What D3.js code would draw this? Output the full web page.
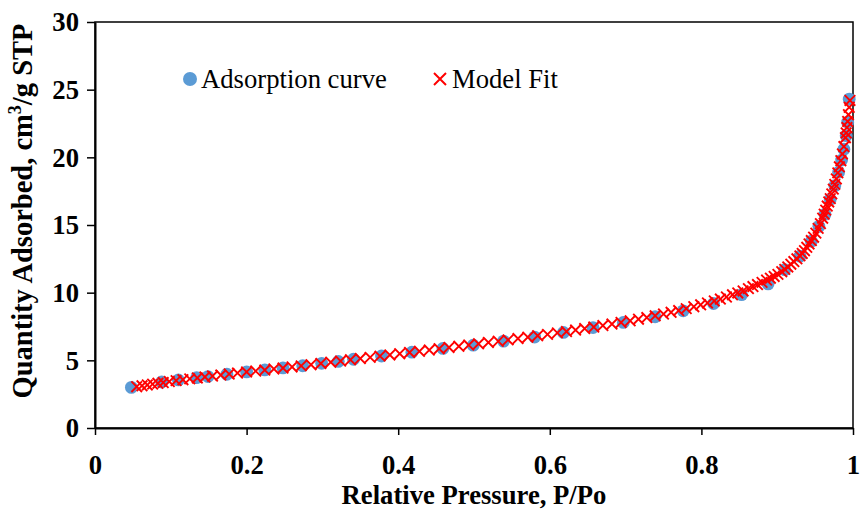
<!DOCTYPE html>
<html><head><meta charset="utf-8">
<script src="https://cdn.jsdelivr.net/npm/d3@7"></script>
<style>body{margin:0;background:#fff}svg{display:block}</style>
</head><body>
<svg id="c" width="861" height="510"></svg>
<script>
const xTicks = [0, 0.2, 0.4, 0.6, 0.8, 1];
const xTickLabels = ["0", "0.2", "0.4", "0.6", "0.8", "1"];
const yTicks = [0, 5, 10, 15, 20, 25, 30];
const yTickLabels = ["0", "5", "10", "15", "20", "25", "30"];

const adsX = [0.048,0.088,0.110,0.134,0.149,0.174,0.200,0.224,0.248,0.274,0.299,0.321,0.341,0.378,0.418,0.459,0.499,0.539,0.580,0.618,0.657,0.697,0.739,0.776,0.816,0.853,0.888,0.91,0.93,0.945,0.955,0.963,0.97,0.976,0.981,0.985,0.988,0.991,0.993,0.995];
const adsY = [3.0,3.4,3.55,3.72,3.8,3.97,4.14,4.29,4.44,4.6,4.78,4.92,5.08,5.32,5.6,5.88,6.12,6.42,6.72,7.06,7.42,7.8,8.22,8.66,9.2,9.85,10.65,11.7,12.7,13.8,14.9,15.8,16.9,17.9,18.9,19.8,20.6,21.6,22.6,24.3];

const fitX = [0.055,0.062,0.069,0.076,0.083,0.09,0.098,0.107,0.116,0.125,0.135,0.145,0.155,0.166,0.177,0.188,0.2,0.212,0.224,0.236,0.248,0.26,0.272,0.285,0.298,0.311,0.324,0.337,0.35,0.363,0.376,0.389,0.402,0.415,0.428,0.441,0.454,0.467,0.48,0.493,0.506,0.519,0.532,0.545,0.558,0.571,0.584,0.597,0.61,0.622,0.634,0.646,0.658,0.67,0.682,0.694,0.706,0.717,0.728,0.739,0.75,0.76,0.77,0.78,0.79,0.799,0.808,0.817,0.825,0.833,0.841,0.848,0.855,0.862,0.868,0.874,0.88,0.886,0.891,0.896,0.901,0.906,0.91,0.914,0.918,0.922,0.926,0.93,0.933,0.936,0.939,0.942,0.945,0.948,0.951,0.954,0.957,0.96,0.962,0.964,0.966,0.968,0.97,0.972,0.974,0.976,0.978,0.98,0.982,0.984,0.986,0.988,0.99,0.991,0.992,0.993,0.994,0.995,0.996];
const fitY = [3.05,3.12,3.18,3.24,3.3,3.36,3.43,3.5,3.57,3.63,3.7,3.77,3.84,3.91,3.99,4.06,4.14,4.21,4.28,4.36,4.43,4.51,4.59,4.68,4.77,4.86,4.95,5.04,5.13,5.22,5.31,5.4,5.49,5.58,5.67,5.76,5.86,5.95,6.04,6.13,6.22,6.32,6.41,6.51,6.61,6.71,6.82,6.92,7.03,7.13,7.24,7.35,7.46,7.57,7.68,7.8,7.92,8.04,8.16,8.29,8.42,8.55,8.68,8.82,8.96,9.1,9.24,9.39,9.53,9.68,9.84,9.98,10.13,10.3,10.45,10.6,10.76,10.93,11.07,11.2,11.35,11.55,11.72,11.9,12.1,12.3,12.5,12.72,12.9,13.1,13.35,13.6,13.85,14.1,14.4,14.75,15.1,15.5,15.8,16.1,16.4,16.7,16.95,17.3,17.65,18.0,18.4,18.85,19.3,19.75,20.25,20.8,21.45,21.8,22.2,22.65,23.15,23.7,24.2];

const seriesNames = ["Adsorption curve", "Model Fit"];
const xTitle = "Relative Pressure, P/Po";

const svg = d3.select("#c");
const L = 95, R = 853, T = 22, B = 428;
const font = "'Liberation Serif','Times New Roman',serif";
const fs = 26.67;

const x = d3.scaleLinear().domain([0, 1]).range([L, R]);
const y = d3.scaleLinear().domain([0, 30]).range([B, T]);

// plot border
svg.append("rect").attr("x", L).attr("y", T).attr("width", R - L).attr("height", B - T)
  .attr("fill", "none").attr("stroke", "#000").attr("stroke-width", 1.5);

const xAxis = d3.axisBottom(x).tickValues(xTicks).tickSize(7).tickSizeOuter(0)
  .tickFormat((d, i) => xTickLabels[i]);
const yAxis = d3.axisLeft(y).tickValues(yTicks).tickSize(8).tickSizeOuter(0)
  .tickFormat((d, i) => yTickLabels[i]);

const gx = svg.append("g").attr("transform", `translate(0,${B})`).call(xAxis);
const gy = svg.append("g").attr("transform", `translate(${L},0)`).call(yAxis);
[gx, gy].forEach(g => {
  g.select(".domain").attr("stroke", "#000").attr("stroke-width", 2);
  g.selectAll(".tick line").attr("stroke", "#000").attr("stroke-width", 1.5);
  g.selectAll(".tick text").attr("fill", "#000").attr("font-family", font)
    .attr("font-weight", "bold").attr("font-size", fs);
});
gx.selectAll(".tick text").attr("dy", null).attr("y", 46);
gy.selectAll(".tick text").attr("x", -16).attr("dy", "0.33em");

// adsorption circles
const ads = adsX.map((v, i) => [v, adsY[i]]);
svg.append("g").selectAll("circle").data(ads).join("circle")
  .attr("cx", d => x(d[0])).attr("cy", d => y(d[1])).attr("r", 6.4)
  .attr("fill", "#5B9BD5");

// model fit crosses
const fit = fitX.map((v, i) => [v, fitY[i]]);
const cross = (cx, cy, s) => `M${cx - s},${cy - s}L${cx + s},${cy + s}M${cx - s},${cy + s}L${cx + s},${cy - s}`;
svg.append("g").selectAll("path").data(fit).join("path")
  .attr("d", d => cross(x(d[0]), y(d[1]), 5.3))
  .attr("stroke", "#FF0000").attr("stroke-width", 1.9).attr("fill", "none");

// legend
svg.append("circle").attr("cx", 190).attr("cy", 79).attr("r", 7).attr("fill", "#5B9BD5");
svg.append("text").attr("x", 201).attr("y", 88).attr("font-family", font).attr("font-size", fs)
  .attr("fill", "#000").text(seriesNames[0]);
svg.append("path").attr("d", cross(440, 79, 6)).attr("stroke", "#FF0000").attr("stroke-width", 2);
svg.append("text").attr("x", 452).attr("y", 88).attr("font-family", font).attr("font-size", fs)
  .attr("fill", "#000").text(seriesNames[1]);

// axis titles
svg.append("text").attr("x", (L + R) / 2).attr("y", 504).attr("text-anchor", "middle")
  .attr("font-family", font).attr("font-weight", "bold").attr("font-size", fs)
  .attr("fill", "#000").text(xTitle);

const yt = svg.append("text").attr("transform", `translate(32,211) rotate(-90)`)
  .attr("text-anchor", "middle").attr("font-family", font).attr("font-weight", "bold")
  .attr("font-size", 28.5).attr("fill", "#000");
yt.append("tspan").text("Quantity Adsorbed, cm");
yt.append("tspan").attr("font-size", 18).attr("dy", -11).text("3");
yt.append("tspan").attr("dy", 11).text("/g STP");
</script>
</body></html>
